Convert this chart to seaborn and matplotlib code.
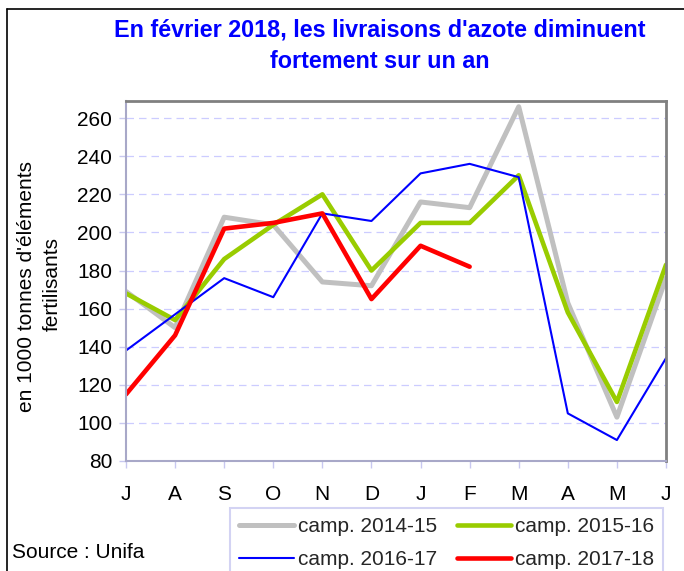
import matplotlib
matplotlib.use("Agg")
import matplotlib.pyplot as plt
import seaborn as sns
import pandas as pd
from matplotlib.lines import Line2D

months = ["J", "A", "S", "O", "N", "D", "J", "F", "M", "A", "M", "J"]
camp_2014_15 = [169, 150, 208, 204, 174, 172, 216, 213, 266, 163, 103, 176]
camp_2015_16 = [168, 154, 186, 204, 220, 180, 205, 205, 230, 158, 111, 183]
camp_2016_17 = [138, 157, 176, 166, 210, 206, 231, 236, 229, 105, 91, 134]
camp_2017_18 = [115, 146, 202, 205, 210, 165, 193, 182]
yticks = [80, 100, 120, 140, 160, 180, 200, 220, 240, 260]

series = [
    ("camp. 2014-15", camp_2014_15, "#C0C0C0", 3.6),
    ("camp. 2015-16", camp_2015_16, "#99CC00", 3.3),
    ("camp. 2016-17", camp_2016_17, "#0000FF", 1.5),
    ("camp. 2017-18", camp_2017_18, "#FF0000", 3.3),
]

FS = 15

sns.set_theme(style="white")
plt.rcParams["font.family"] = ["Liberation Sans", "DejaVu Sans"]

fig = plt.figure(figsize=(6.84, 5.71), dpi=100)
ax = fig.add_axes([126 / 684, 110 / 571, 540 / 684, 360 / 571])

for name, vals, col, lw in series:
    df = pd.DataFrame({"x": range(len(vals)), "y": vals})
    sns.lineplot(data=df, x="x", y="y", ax=ax, color=col, linewidth=lw,
                 label=name, legend=False)

ax.set_xlim(0, 11)
ax.set_ylim(80, 269)
ax.set_xticks(range(12))
ax.set_xticklabels(months)
ax.set_yticks(yticks)
ax.set_xlabel("")
ax.set_ylabel("")
ax.tick_params(axis="both", labelsize=FS, colors="black", length=5,
               width=1, direction="out", bottom=True, left=True)
ax.tick_params(axis="x", color="#C8C8F0", pad=12)
ax.tick_params(axis="y", color="#C8C8F0", pad=5)

ax.yaxis.grid(True, color="#CCCCFF", linestyle=(0, (6, 4)), linewidth=0.9)
ax.xaxis.grid(False)
ax.set_axisbelow(True)

for s in ["top", "right"]:
    ax.spines[s].set_color("#808080")
    ax.spines[s].set_linewidth(2)
for s in ["left", "bottom"]:
    ax.spines[s].set_color("#A8A8C8")
    ax.spines[s].set_linewidth(1.5)

# y-axis title (two lines)
fig.text(27 / 684, 1 - 286 / 571, "en 1000 tonnes d'éléments", rotation=90,
         ha="center", va="center", fontsize=FS, color="black")
fig.text(52 / 684, 1 - 284 / 571, "fertilisants", rotation=90,
         ha="center", va="center", fontsize=FS, color="black")

# chart title (two lines)
fig.text(380 / 684, 1 - 30 / 571,
         "En février 2018, les livraisons d'azote diminuent",
         ha="center", va="center", fontsize=16.8, fontweight="bold",
         color="#0000FF")
fig.text(380 / 684, 1 - 62 / 571, "fortement sur un an",
         ha="center", va="center", fontsize=16.8, fontweight="bold",
         color="#0000FF")

fig.text(12 / 684, 1 - 552 / 571, "Source : Unifa", ha="left", va="center",
         fontsize=FS, color="black")

handles = [Line2D([], [], color=c, linewidth=lw) for _, _, c, lw in series]
labels = [n for n, _, _, _ in series]
order = [0, 2, 1, 3]
leg = fig.legend([handles[i] for i in order], [labels[i] for i in order],
                 ncol=2, loc="upper left",
                 bbox_to_anchor=(230 / 684, 1 - 508 / 571),
                 fontsize=FS, frameon=True, fancybox=False,
                 handlelength=2.6, handletextpad=0.2, columnspacing=0.95,
                 borderpad=0.45, labelspacing=0.65, borderaxespad=0)
leg.get_frame().set_edgecolor("#C8C8F0")
leg.get_frame().set_linewidth(1.5)

# figure frame (left and top)
fig.add_artist(Line2D([7 / 684, 7 / 684], [0, 1 - 9 / 571], color="black",
                      linewidth=1.2, transform=fig.transFigure))
fig.add_artist(Line2D([7 / 684, 1], [1 - 9 / 571, 1 - 9 / 571], color="black",
                      linewidth=1.2, transform=fig.transFigure))

fig.savefig("out.png", dpi=100)
